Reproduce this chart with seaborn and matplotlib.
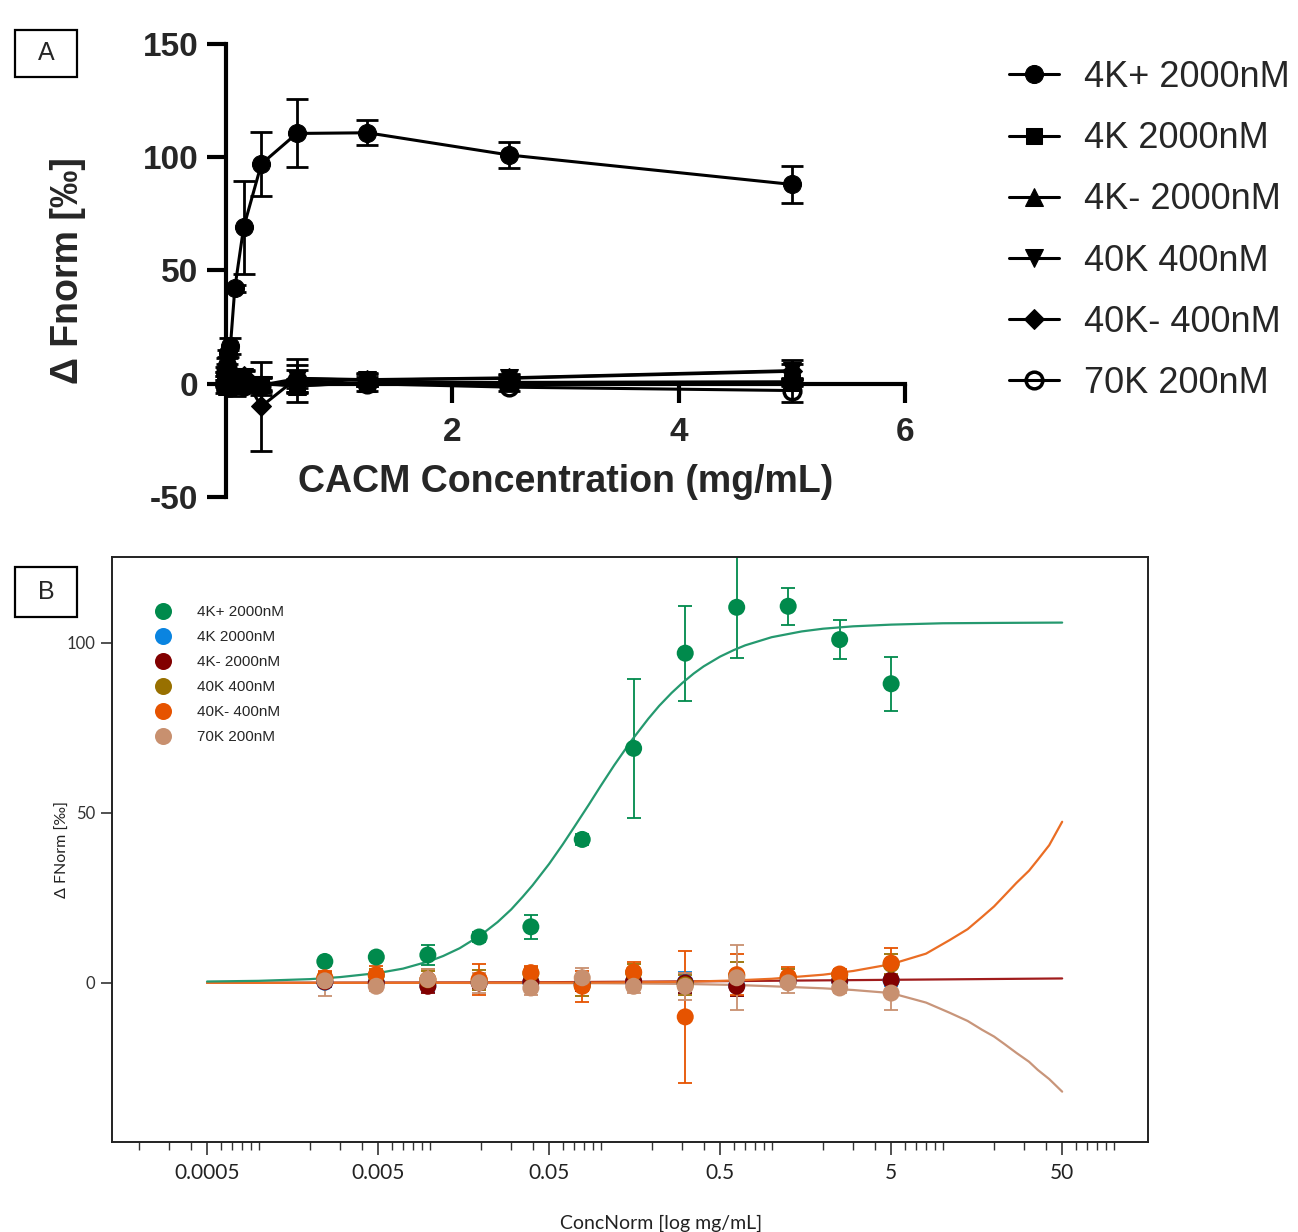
import matplotlib
matplotlib.use("Agg")
import matplotlib.pyplot as plt
from matplotlib.patches import Rectangle
from matplotlib.ticker import LogLocator, FixedLocator, FixedFormatter, NullFormatter
import numpy as np
import pandas as pd
import seaborn as sns

# 2-fold dilution series of CACM (mg/mL)
conc = [0.00244, 0.00488, 0.00977, 0.0195, 0.0391, 0.0781, 0.156, 0.3125, 0.625, 1.25, 2.5, 5.0]

samples = ["4K+ 2000nM", "4K 2000nM", "4K- 2000nM", "40K 400nM", "40K- 400nM", "70K 200nM"]

# delta Fnorm [permille] and error per sample
k4_plus = [6.3, 7.6, 8.2, 13.5, 16.5, 42.2, 69.0, 97.0, 110.5, 110.8, 101.0, 88.0]
k4_plus_err = [1.0, 1.0, 3.0, 1.5, 3.5, 1.5, 20.5, 14.0, 15.0, 5.5, 5.7, 8.0]
k4 = [0.2, 0.1, -0.8, 0.1, 0.2, -0.4, 0.4, 0.1, -0.8, 0.4, 0.5, 0.7]
k4_err = [1.5, 1.5, 2.0, 1.5, 1.5, 2.0, 2.0, 3.0, 3.0, 1.5, 1.5, 1.5]
k4_minus = [0.3, 0.0, -1.0, 0.0, 0.3, -0.5, 0.5, 0.0, -1.0, 0.5, 0.6, 0.8]
k4_minus_err = [1.5, 1.5, 2.0, 1.5, 1.5, 2.0, 2.0, 3.0, 3.0, 1.5, 1.5, 1.5]
k40 = [1.3, 2.2, 0.9, 0.8, 2.8, -0.8, 3.0, -0.6, 2.2, 1.6, 2.4, 5.5]
k40_err = [2.0, 2.0, 2.5, 3.0, 2.0, 3.0, 2.5, 3.0, 4.0, 2.5, 1.5, 3.0]
k40_minus = [1.5, 2.4, 1.0, 1.0, 3.0, -1.0, 3.2, -10.0, 2.4, 1.8, 2.6, 5.8]
k40_minus_err = [2.0, 2.5, 3.0, 4.5, 2.0, 4.5, 3.0, 19.5, 6.0, 3.0, 1.5, 4.5]
k70 = [0.6, -1.0, 1.0, 0.0, -1.5, 1.5, -1.0, -1.0, 1.5, 0.0, -1.5, -3.0]
k70_err = [4.5, 1.5, 3.0, 3.0, 2.0, 3.0, 2.0, 4.0, 9.5, 3.0, 1.5, 5.0]

# fitted curves of panel B
fit_4k_plus_x = [0.0005, 0.001, 0.002, 0.003, 0.005, 0.007, 0.01, 0.012, 0.015, 0.02, 0.025, 0.03,
                 0.035, 0.04, 0.05, 0.06, 0.07, 0.085, 0.1, 0.12, 0.15, 0.19, 0.22, 0.26, 0.3, 0.35,
                 0.4, 0.5, 0.6, 0.7, 1, 1.5, 2, 3, 5, 10, 20, 50]
fit_4k_plus_y = [0.4, 0.6, 1.1, 1.7, 2.9, 4.2, 6.4, 7.9, 10.2, 14.1, 17.9, 21.6,
                 25.3, 28.7, 35.0, 40.7, 45.8, 52.3, 57.9, 64.0, 71.0, 77.7, 81.5, 85.3, 88.2, 91.0,
                 93.1, 96.0, 97.9, 99.3, 101.7, 103.4, 104.2, 104.9, 105.4, 105.8, 105.9, 106.0]
fit_side_x = [0.0005, 0.01, 0.1, 0.3, 0.6, 1, 2, 3, 5, 8, 11, 14, 17, 20, 23, 27, 32, 36, 42, 50]
fit_40k_minus_y = [0.0, 0.0, 0.1, 0.3, 0.7, 1.2, 2.4, 3.5, 5.5, 8.6, 12.6, 15.8, 19.4, 22.5,
                   25.7, 29.4, 33.0, 36.2, 40.5, 47.4]
fit_70k_y = [0.0, 0.0, -0.1, -0.3, -0.6, -1.0, -1.6, -2.1, -3.0, -5.8, -8.8, -11.2, -13.8, -15.8,
             -18.0, -20.6, -23.2, -25.6, -28.3, -32.0]
fit_4k_minus_x = [0.0005, 0.05, 0.5, 5, 50]
fit_4k_minus_y = [0.0, 0.2, 0.5, 0.9, 1.3]

values = [k4_plus, k4, k4_minus, k40, k40_minus, k70]
errors = [k4_plus_err, k4_err, k4_minus_err, k40_err, k40_minus_err, k70_err]

df = pd.DataFrame({
    "conc": conc * len(samples),
    "value": sum(values, []),
    "err": sum(errors, []),
    "sample": [s for s in samples for _ in conc],
})

colors_b = ["#008a4c", "#0a84e0", "#820000", "#987000", "#e65300", "#c8906f"]
markers_a = {
    "4K+ 2000nM": dict(marker="o", markersize=13, markerfacecolor="black"),
    "4K 2000nM": dict(marker="s", markersize=12, markerfacecolor="black"),
    "4K- 2000nM": dict(marker="^", markersize=13, markerfacecolor="black"),
    "40K 400nM": dict(marker="v", markersize=13, markerfacecolor="black"),
    "40K- 400nM": dict(marker="D", markersize=10, markerfacecolor="black"),
    "70K 200nM": dict(marker="o", markersize=12, markerfacecolor="none", markeredgewidth=2.5),
}

sns.set_theme(style="ticks")
plt.rcParams["font.family"] = ["Liberation Sans", "DejaVu Sans"]
plt.rcParams["axes.unicode_minus"] = False

fig = plt.figure(figsize=(12.98, 12.32), dpi=100)

# ---------------- Panel A ----------------
axA = fig.add_axes([0.1741, 0.5966, 0.5231, 0.3677])
# open circles at the bottom, 4K+ on top
for i, name in enumerate(reversed(samples)):
    d = df[df["sample"] == name]
    axA.errorbar(d["conc"], d["value"], yerr=d["err"], fmt="none", ecolor="black",
                 elinewidth=2, capsize=8, capthick=2, clip_on=False, zorder=2 + i * 0.1)
    sns.lineplot(data=d, x="conc", y="value", ax=axA, color="black", linewidth=2.2,
                 markeredgecolor="black", label=name, clip_on=False, zorder=3 + i * 0.1,
                 **markers_a[name])

axA.set_xlim(0, 6)
axA.set_ylim(-50, 150)
axA.spines["bottom"].set_position(("data", 0))
axA.spines["top"].set_visible(False)
axA.spines["right"].set_visible(False)
for sp in ["left", "bottom"]:
    axA.spines[sp].set_linewidth(3)
    axA.spines[sp].set_color("black")
axA.set_xticks([2, 4, 6])
axA.set_yticks([-50, 0, 50, 100, 150])
axA.tick_params(axis="both", width=3, length=14, labelsize=24, color="black", pad=6)
axA.tick_params(axis="x", pad=10)
for lab in axA.get_xticklabels() + axA.get_yticklabels():
    lab.set_fontweight("bold")
axA.set_xlabel("CACM Concentration (mg/mL)", fontsize=27, fontweight="bold")
axA.set_ylabel("Δ Fnorm [‰]", fontsize=27, fontweight="bold")
axA.xaxis.set_label_coords(0.5, 0.072)
axA.yaxis.set_label_coords(-0.206, 0.5)

hA, lA = axA.get_legend_handles_labels()
order = [lA.index(s) for s in samples]
axA.legend([hA[i] for i in order], [lA[i] for i in order], loc="upper left",
           bbox_to_anchor=(0.777, 0.9513), bbox_transform=fig.transFigure,
           frameon=False, fontsize=26, handlelength=1.4, handletextpad=0.69,
           labelspacing=0.725, borderpad=0, borderaxespad=0)

# ---------------- Panel B ----------------
axB = fig.add_axes([0.0863, 0.0731, 0.7982, 0.4748])
for name, col in zip(samples, colors_b):
    d = df[df["sample"] == name]
    axB.errorbar(d["conc"], d["value"], yerr=d["err"], fmt="none", ecolor=col,
                 elinewidth=1.3, capsize=5, capthick=1.3, zorder=2)

sns.lineplot(x=fit_4k_minus_x, y=fit_4k_minus_y, ax=axB, color="#a01c1c", linewidth=1.6, zorder=2.5)
sns.lineplot(x=fit_side_x, y=fit_70k_y, ax=axB, color="#c8957a", linewidth=1.6, zorder=2.5)
sns.lineplot(x=fit_side_x, y=fit_40k_minus_y, ax=axB, color="#ea6d24", linewidth=1.6, zorder=2.5)
sns.lineplot(x=fit_4k_plus_x, y=fit_4k_plus_y, ax=axB, color="#25996f", linewidth=1.6, zorder=2.5)

sns.scatterplot(data=df, x="conc", y="value", hue="sample", hue_order=samples,
                palette=colors_b, s=150, linewidth=0, ax=axB, zorder=3)

axB.set_xscale("log")
axB.set_xlim(1.39e-4, 159)
axB.set_ylim(-46.8, 125.3)
axB.set_yticks([0, 50, 100])
axB.xaxis.set_major_locator(FixedLocator([0.0005, 0.005, 0.05, 0.5, 5, 50]))
axB.xaxis.set_major_formatter(FixedFormatter(["0.0005", "0.005", "0.05", "0.5", "5", "50"]))
axB.xaxis.set_minor_locator(LogLocator(base=10, subs=np.arange(1, 10)))
axB.xaxis.set_minor_formatter(NullFormatter())
for sp in axB.spines.values():
    sp.set_linewidth(1.4)
    sp.set_color("#222222")
axB.tick_params(axis="y", length=8, width=1.2, color="#333333", labelsize=12,
                labelcolor="#333333", pad=4)
axB.tick_params(axis="x", which="major", length=9, width=1.2, color="#333333",
                labelsize=15, labelcolor="#222222", pad=6)
axB.tick_params(axis="x", which="minor", length=6, width=1.0, color="#333333")
for lab in axB.get_xticklabels() + axB.get_yticklabels():
    lab.set_family(["Lato", "DejaVu Sans"])
axB.set_xlabel("ConcNorm [log mg/mL]", fontsize=14, color="#222222", family=["Lato", "DejaVu Sans"])
axB.set_ylabel("Δ FNorm [‰]", fontsize=11.5, color="#222222", family=["Lato", "DejaVu Sans"])
axB.xaxis.set_label_coords(0.53, -0.125)
axB.yaxis.set_label_coords(-0.041, 0.5)

handles, labels = axB.get_legend_handles_labels()
axB.legend(handles, labels, loc="upper left", bbox_to_anchor=(0.034, 0.918), frameon=False,
           fontsize=11, handletextpad=1.27, labelspacing=0.72, borderpad=0, borderaxespad=0,
           markerscale=1.0)

# ---------------- panel tags ----------------
for tag, (x0, y0, h) in {"A": (0.01156, 0.9375, 0.03815), "B": (0.01156, 0.4992, 0.0406)}.items():
    fig.add_artist(Rectangle((x0, y0), 0.0478, h, transform=fig.transFigure,
                             fill=False, edgecolor="black", linewidth=1.6))
    fig.text(x0 + 0.0239, y0 + h / 2, tag, ha="center", va="center", fontsize=18)

fig.savefig("out.png", dpi=100)
